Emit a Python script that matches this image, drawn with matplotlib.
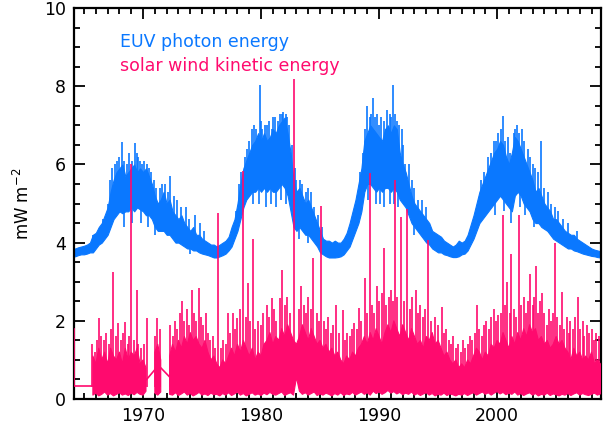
import numpy as np
import matplotlib
matplotlib.use("Agg")
import matplotlib.pyplot as plt
from matplotlib.ticker import MultipleLocator

# ---------------- data ----------------
euv_years = np.arange(1964.0, 2009.01, 0.25)
euv_lo = [3.65, 3.65, 3.68, 3.70, 3.70, 3.72, 3.75, 3.75, 3.85, 3.95, 4.00, 4.10,
          4.20, 4.40, 4.60, 4.70, 4.80, 4.75, 4.80, 4.80, 4.90, 4.80, 4.90, 4.85,
          4.80, 4.70, 4.70, 4.60, 4.40, 4.30, 4.30, 4.30, 4.20, 4.20, 4.10, 4.00,
          4.00, 3.95, 3.90, 3.85, 3.85, 3.80, 3.80, 3.75, 3.72, 3.70, 3.68, 3.65,
          3.62, 3.62, 3.65, 3.68, 3.72, 3.80, 3.90, 4.10, 4.30, 4.60, 4.90, 5.10,
          5.20, 5.30, 5.30, 5.40, 5.30, 5.40, 5.30, 5.40, 5.30, 5.30, 5.40, 5.50,
          5.40, 5.20, 4.80, 4.40, 4.30, 4.40, 4.30, 4.20, 4.20, 4.10, 4.00, 3.90,
          3.75, 3.70, 3.65, 3.62, 3.62, 3.62, 3.63, 3.65, 3.70, 3.80, 3.90, 4.10,
          4.30, 4.50, 4.80, 5.30, 5.50, 5.50, 5.40, 5.30, 5.40, 5.30, 5.40, 5.40,
          5.30, 5.40, 5.30, 5.10, 5.00, 4.90, 4.70, 4.50, 4.40, 4.30, 4.20, 4.10,
          4.00, 3.95, 3.85, 3.80, 3.75, 3.75, 3.70, 3.68, 3.65, 3.63, 3.63, 3.65,
          3.70, 3.72, 3.80, 3.95, 4.10, 4.30, 4.50, 4.60, 4.70, 4.80, 4.90, 5.00,
          5.10, 5.20, 5.10, 5.00, 4.90, 4.80, 5.20, 5.30, 5.20, 5.00, 4.90, 4.80,
          4.60, 4.50, 4.50, 4.40, 4.35, 4.30, 4.20, 4.10, 4.05, 4.00, 3.95, 3.90,
          3.85, 3.85, 3.80, 3.78, 3.75, 3.72, 3.70, 3.68, 3.66, 3.65, 3.63, 3.62,
          3.62]
euv_hi = [3.85, 3.85, 3.88, 3.90, 3.92, 3.95, 4.00, 4.20, 4.25, 4.40, 4.50, 4.70,
          4.90, 5.30, 5.60, 5.80, 5.90, 6.00, 5.70, 5.80, 5.90, 6.00, 5.80, 5.90,
          5.80, 5.90, 5.70, 5.50, 5.20, 5.00, 5.10, 5.30, 5.00, 5.10, 4.80, 4.70,
          4.60, 4.70, 4.50, 4.40, 4.30, 4.40, 4.20, 4.20, 4.10, 4.05, 4.00, 3.95,
          3.95, 3.90, 3.95, 4.00, 4.05, 4.15, 4.40, 4.60, 5.00, 5.50, 5.90, 6.10,
          6.30, 6.50, 6.60, 6.80, 6.60, 6.80, 6.60, 6.70, 6.90, 6.80, 7.00, 7.10,
          7.20, 6.80, 6.30, 5.60, 5.30, 5.40, 5.20, 5.00, 5.10, 4.90, 4.70, 4.50,
          4.30, 4.10, 4.05, 4.05, 4.00, 4.05, 4.00, 4.00, 4.10, 4.25, 4.50, 4.80,
          5.10, 5.50, 5.90, 6.60, 6.80, 7.00, 6.90, 6.80, 6.70, 6.60, 6.90, 7.00,
          6.80, 7.00, 6.90, 6.30, 6.00, 5.80, 5.50, 5.20, 5.00, 4.90, 4.80, 4.70,
          4.60, 4.50, 4.30, 4.25, 4.20, 4.15, 4.05, 4.00, 3.95, 3.90, 3.95, 4.05,
          4.00, 4.05, 4.20, 4.45, 4.70, 5.00, 5.30, 5.50, 5.70, 5.90, 6.10, 6.30,
          6.40, 6.60, 6.50, 6.20, 6.00, 6.30, 6.70, 6.60, 6.40, 6.20, 6.00, 5.80,
          5.60, 5.30, 5.40, 5.20, 5.00, 4.90, 4.80, 4.60, 4.60, 4.50, 4.40, 4.30,
          4.25, 4.20, 4.20, 4.10, 4.05, 4.00, 3.95, 3.90, 3.85, 3.82, 3.80, 3.78,
          3.78]
euv_spike_years = [1965.8, 1966.6, 1967.0, 1967.4, 1967.6, 1968.2, 1968.6, 1969.3, 1969.6,
                   1969.9, 1970.5, 1970.9, 1971.4, 1972.3, 1972.9, 1973.6, 1974.4, 1975.2,
                   1977.9, 1978.3, 1978.8, 1979.2, 1979.9, 1980.3, 1980.7, 1981.2, 1981.6,
                   1981.9, 1982.4, 1983.0, 1983.5, 1984.0, 1984.5, 1988.6, 1989.0, 1989.5,
                   1989.8, 1990.2, 1990.7, 1991.2, 1991.5, 1991.9, 1992.2, 1992.8, 1993.3,
                   1998.6, 1999.2, 1999.7, 2000.1, 2000.5, 2000.9, 2001.4, 2001.7, 2002.1,
                   2002.6, 2003.2, 2003.7, 2004.3, 2004.9, 2005.6,
                   1967.2, 1967.8, 1968.0, 1968.4, 1968.8, 1969.1, 1969.45, 1969.75, 1970.1,
                   1970.3, 1970.7, 1971.1, 1971.6, 1971.9, 1972.1, 1972.6, 1973.2, 1973.9,
                   1974.8, 1978.1, 1978.6, 1979.0, 1979.4, 1979.6, 1980.0, 1980.1, 1980.5,
                   1980.9, 1981.0, 1981.4, 1981.8, 1982.1, 1982.2, 1982.6, 1982.9, 1983.3,
                   1983.8, 1984.2, 1984.8, 1985.2, 1988.4, 1988.8, 1989.2, 1989.35, 1989.65,
                   1990.0, 1990.4, 1990.55, 1990.9, 1991.0, 1991.35, 1991.7, 1992.0, 1992.5,
                   1993.0, 1993.6, 1994.0, 1998.9, 1999.45, 1999.9, 2000.3, 2000.7, 2001.1,
                   2001.55, 2001.85, 2002.3, 2002.8, 2003.0, 2003.45, 2004.0, 2004.6, 2005.2,
                   2006.0, 2006.8]
euv_spike_vals = [4.2, 4.6, 5.0, 5.9, 6.0, 6.58, 6.0, 6.55, 6.2,
                  6.0, 5.9, 5.6, 5.4, 5.7, 5.1, 4.9, 4.7, 4.3,
                  4.8, 5.8, 6.4, 6.9, 8.03, 7.0, 7.1, 7.2, 7.3,
                  7.35, 7.0, 5.6, 5.5, 5.4, 4.9, 6.3, 7.5, 7.7,
                  7.3, 7.2, 7.4, 8.03, 7.1, 6.9, 6.0, 5.6, 5.1,
                  5.6, 6.2, 6.6, 6.8, 7.24, 6.7, 6.8, 7.0, 6.9,
                  6.4, 5.9, 6.6, 5.3, 4.9, 4.6,
                  5.6, 6.1, 6.2, 6.1, 6.3, 6.1, 6.3, 6.1, 6.1,
                  6.0, 5.8, 5.4, 5.5, 5.5, 5.3, 5.2, 4.9, 4.6,
                  4.5, 5.5, 6.2, 6.6, 7.0, 6.9, 7.1, 6.9, 7.0,
                  6.9, 7.2, 7.1, 7.3, 7.3, 7.2, 6.5, 5.9, 5.6,
                  5.3, 5.3, 4.7, 4.4, 5.8, 6.9, 7.2, 7.3, 7.2,
                  7.0, 7.1, 6.9, 7.3, 7.2, 7.3, 7.0, 6.5, 6.0,
                  5.4, 5.1, 4.9, 5.8, 6.3, 6.6, 6.9, 6.6, 6.3,
                  6.9, 6.8, 6.6, 6.2, 6.0, 5.8, 5.4, 5.0, 4.8,
                  4.5, 4.3]
euv_dip_years = [1968.4, 1969.1, 1969.8, 1970.4, 1971.0, 1974.0, 1979.3, 1979.8, 1980.4,
                 1980.8, 1981.3, 1981.7, 1982.1, 1983.2, 1984.0, 1989.1, 1989.7, 1990.1,
                 1990.45, 1990.9, 1991.3, 1991.6, 1993.0, 1999.8, 2000.6, 2001.2, 2001.9,
                 2002.4, 2003.1]
euv_dip_vals = [4.4, 4.5, 4.5, 4.4, 4.2, 3.7, 5.0, 5.0, 4.9,
                5.0, 4.9, 5.1, 5.0, 4.1, 4.0, 5.1, 5.0, 5.0,
                4.9, 5.0, 5.0, 4.9, 4.2, 4.7, 4.8, 4.5, 4.9,
                4.7, 4.4]

sw_hi = [1.1, 0.9, 1.3, 1.0, 1.2, 0.9, 1.3, 1.1, 1.0, 1.2, 0.9, 1.3, 1.0, 1.2, 1.1, 1.3,
         0.9, 1.0, 0.8, np.nan, np.nan, 1.2, 1.4, 1.0, np.nan, np.nan,
         1.1, 1.4, 1.2, 1.5, 1.3, 1.6, 1.4, 1.7, 1.5, 1.6, 1.4, 1.3, 1.5, 1.2, 1.0, 1.1,
         0.9, 0.8, 1.0, 0.9, 1.1, 1.3, 1.1, 1.4, 1.2, 1.5, 1.3, 1.1, 1.3, 1.0, 1.2, 1.1,
         1.4, 1.5, 1.7, 1.4, 1.6, 1.5, 1.8, 1.6, 1.9, 1.7, 1.5, 1.4, 1.6, 1.9, 1.7, 1.5,
         1.8, 1.6, 1.4, 1.5, 1.3, 1.4, 1.2, 1.3, 1.1, 1.2, 1.0, 0.9, 1.1, 1.0, 1.2, 1.1,
         1.3, 1.4, 1.6, 1.4, 1.7, 1.5, 1.8, 1.6, 1.4, 1.7, 1.9, 1.7, 2.0, 1.8, 1.6, 1.9,
         1.7, 1.5, 1.8, 1.6, 1.4, 1.5, 1.3, 1.6, 1.5, 1.7, 1.4, 1.5, 1.3, 1.1, 1.2, 1.0,
         0.9, 1.0, 0.8, 0.9, 0.8, 1.0, 0.9, 1.1, 1.3, 1.2, 1.0, 1.2, 1.1, 1.4, 1.3, 1.5,
         1.4, 1.7, 1.5, 1.3, 1.6, 1.4, 1.7, 1.5, 1.8, 1.6, 1.9, 1.7, 1.8, 1.5, 1.6, 1.4,
         1.5, 1.3, 1.4, 1.6, 1.4, 1.5, 1.3, 1.2, 1.0, 1.3, 1.1, 1.2, 1.0, 1.1, 1.0, 1.2,
         0.9, 1.0, 0.9]
sw_lo = [0.10, 0.15, 0.08, 0.12, 0.18, 0.10, 0.14, 0.08, 0.12, 0.16, 0.10, 0.13, 0.09, 0.15,
         0.11, 0.17, 0.12, 0.10, 0.20, 0.30, 0.30, 0.15, 0.10, 0.18, 0.30, 0.30,
         0.12, 0.10, 0.16, 0.09, 0.13, 0.18, 0.10, 0.14, 0.08, 0.12, 0.17, 0.10, 0.13, 0.09,
         0.15, 0.11, 0.12, 0.08, 0.14, 0.10, 0.16, 0.09, 0.13, 0.18, 0.10, 0.14, 0.08, 0.12,
         0.16, 0.10, 0.13, 0.09, 0.15, 0.11, 0.17, 0.12, 0.10, 0.14, 0.18, 0.09, 0.13, 0.16,
         0.10, 0.55, 0.20, 0.12, 0.16, 0.10, 0.14, 0.18, 0.09, 0.13, 0.10, 0.15, 0.12, 0.08,
         0.14, 0.10, 0.16, 0.09, 0.13, 0.11, 0.17, 0.10, 0.14, 0.18, 0.12, 0.16, 0.10, 0.20,
         0.14, 0.18, 0.12, 0.16, 0.22, 0.15, 0.19, 0.13, 0.17, 0.11, 0.15, 0.12, 0.18, 0.10,
         0.14, 0.09, 0.13, 0.16, 0.10, 0.14, 0.08, 0.12, 0.10, 0.15, 0.09, 0.13, 0.11, 0.08,
         0.12, 0.10, 0.14, 0.09, 0.13, 0.16, 0.10, 0.14, 0.18, 0.12, 0.16, 0.10, 0.15, 0.19,
         0.13, 0.17, 0.11, 0.15, 0.12, 0.18, 0.10, 0.14, 0.09, 0.13, 0.16, 0.10, 0.14, 0.08,
         0.12, 0.10, 0.15, 0.09, 0.13, 0.11, 0.08, 0.12, 0.10, 0.14, 0.09, 0.13, 0.16, 0.10,
         0.14, 0.11, 0.09, 0.12, 0.15, 0.10, 0.13]
sw_years = 1965.75 + 0.25 * np.arange(len(sw_hi))

sw_spike_years = [1965.7, 1965.9, 1966.1, 1966.3, 1966.45, 1966.7, 1966.9, 1967.1, 1967.3, 1967.45,
                  1967.7, 1967.9, 1968.1, 1968.3, 1968.5, 1968.7, 1968.85, 1969.0, 1969.2, 1969.45,
                  1969.6, 1969.8, 1970.1, 1970.3, 1971.05, 1971.2, 1971.4, 1972.3, 1972.5, 1972.7,
                  1972.9, 1973.1, 1973.3, 1973.5, 1973.7, 1973.9, 1974.15, 1974.35, 1974.5, 1974.7,
                  1974.9, 1975.1, 1975.3, 1975.5, 1975.7, 1975.9, 1976.1, 1976.35, 1976.6, 1976.8,
                  1977.0, 1977.2, 1977.4, 1977.6, 1977.8, 1977.95, 1978.2, 1978.45, 1978.7, 1978.9,
                  1979.1, 1979.3, 1979.5, 1979.7, 1980.0, 1980.2, 1980.5, 1980.7, 1980.9, 1981.1,
                  1981.3, 1981.6, 1981.8, 1982.0, 1982.2, 1982.45, 1982.75, 1983.2, 1983.4, 1983.6,
                  1983.8, 1984.0, 1984.2, 1984.4, 1984.7, 1984.9, 1985.1, 1985.3, 1985.5, 1985.7,
                  1985.9, 1986.1, 1986.35, 1986.6, 1986.9, 1987.1, 1987.3, 1987.5, 1987.7, 1987.9,
                  1988.1, 1988.3, 1988.5, 1988.8, 1989.0, 1989.2, 1989.4, 1989.6, 1989.8, 1990.0,
                  1990.25, 1990.4, 1990.6, 1990.8, 1991.0, 1991.2, 1991.35, 1991.55, 1991.85, 1992.1,
                  1992.35, 1992.6, 1992.8, 1993.1, 1993.3, 1993.5, 1993.7, 1993.9, 1994.15, 1994.4,
                  1994.75, 1995.0, 1995.3, 1995.5, 1995.7, 1995.9, 1996.1, 1996.3, 1996.5, 1996.7,
                  1996.9, 1997.1, 1997.3, 1997.5, 1997.7, 1997.9, 1998.1, 1998.3, 1998.5, 1998.7,
                  1998.9, 1999.1, 1999.3, 1999.5, 1999.7, 1999.9, 2000.1, 2000.3, 2000.5, 2000.65,
                  2000.85, 2001.05, 2001.2, 2001.4, 2001.6, 2001.85, 2002.05, 2002.25, 2002.45, 2002.6,
                  2002.8, 2003.0, 2003.15, 2003.3, 2003.5, 2003.65, 2003.8, 2004.0, 2004.2, 2004.4,
                  2004.6, 2004.75, 2004.9, 2005.1, 2005.3, 2005.5, 2005.7, 2005.9, 2006.05, 2006.2,
                  2006.4, 2006.6, 2006.85, 2007.05, 2007.25, 2007.4, 2007.6, 2007.8, 2008.0, 2008.2,
                  2008.4, 2008.6]
sw_spike_vals = [1.4, 1.2, 1.5, 2.07, 1.6, 1.5, 1.7, 1.4, 1.8, 3.25,
                 1.6, 1.94, 1.5, 1.7, 1.97, 1.4, 1.6, 6.0, 1.5, 2.8,
                 1.4, 1.3, 1.4, 2.07, 1.6, 2.07, 1.8, 1.9, 1.6, 2.0,
                 1.8, 2.2, 2.5, 2.0, 2.3, 1.9, 2.8, 2.2, 2.0, 2.83,
                 2.1, 1.9, 2.2, 1.7, 1.5, 1.6, 1.3, 4.76, 1.3, 1.5,
                 1.4, 2.2, 1.7, 2.2, 1.8, 2.07, 2.3, 5.83, 2.1, 2.97,
                 2.0, 4.1, 1.8, 2.0, 1.9, 2.2, 2.4, 2.1, 2.58, 2.3,
                 2.0, 2.58, 3.3, 2.4, 2.6, 2.2, 8.18, 2.3, 2.9, 2.4,
                 2.2, 2.6, 2.3, 3.6, 2.2, 2.0, 4.93, 2.0, 1.8, 2.1,
                 1.7, 1.9, 2.4, 1.7, 2.27, 1.5, 1.7, 1.6, 1.8, 1.94,
                 1.8, 2.33, 2.0, 3.1, 2.2, 5.78, 2.4, 2.2, 2.9, 2.5,
                 2.7, 3.86, 2.4, 2.6, 2.8, 2.5, 5.6, 2.6, 4.65, 2.5,
                 4.86, 2.3, 2.6, 2.8, 2.2, 2.4, 2.1, 2.3, 4.07, 2.0,
                 2.1, 1.9, 2.35, 1.7, 1.8, 1.5, 1.4, 1.6, 1.3, 1.4,
                 1.2, 1.5, 1.3, 1.4, 1.6, 1.5, 1.7, 2.4, 1.8, 1.6,
                 1.9, 2.0, 1.8, 2.1, 2.3, 2.0, 2.15, 2.2, 4.7, 2.4,
                 3.0, 2.2, 3.7, 2.3, 2.1, 4.7, 2.4, 2.6, 2.2, 2.5,
                 3.2, 2.4, 2.6, 3.4, 2.2, 2.5, 2.7, 2.2, 1.9, 2.3,
                 2.0, 2.2, 4.0, 2.1, 1.9, 2.75, 1.8, 2.1, 1.7, 2.0,
                 1.8, 2.1, 2.6, 1.8, 2.0, 1.6, 1.9, 1.7, 1.8, 1.5,
                 1.7, 1.6]
# interpolated segments across data gaps
sw_start_x = [1964.15, 1964.15, 1965.7]
sw_start_y = [1.8, 0.33, 0.33]
sw_gap1_x = [1970.3, 1971.0]
sw_gap1_y = [0.5, 0.75]
sw_gap2_x = [1971.5, 1972.3]
sw_gap2_y = [0.8, 0.55]

labels = ["EUV photon energy", "solar wind kinetic energy"]
ylabel = "mW m$^{-2}$"

BLUE = "#0a78ff"
PINK = "#ff0a6e"

# ---------------- plot ----------------
fig = plt.figure(figsize=(6.04, 4.30), dpi=100)
ax = fig.add_axes([0.1225, 0.072, 0.8725, 0.9094])

euv_lo_a = np.array(euv_lo)
euv_hi_a = np.array(euv_hi)
euv_mid = (euv_lo_a + euv_hi_a) / 2
ax.fill_between(euv_years, euv_lo_a, euv_hi_a, color=BLUE, lw=0.8, zorder=2)
base_up = np.interp(euv_spike_years, euv_years, euv_mid)
ax.vlines(euv_spike_years, base_up, euv_spike_vals, color=BLUE, lw=1.2, zorder=2)
base_dn = np.interp(euv_dip_years, euv_years, euv_mid)
ax.vlines(euv_dip_years, euv_dip_vals, base_dn, color=BLUE, lw=1.2, zorder=2)

sw_hi_a = np.array(sw_hi, dtype=float)
sw_lo_a = np.array(sw_lo, dtype=float)
ax.fill_between(sw_years, sw_lo_a, sw_hi_a, color=PINK, lw=0.8, zorder=3)
ax.vlines(sw_spike_years, 0.3, sw_spike_vals, color=PINK, lw=1.2, zorder=3)
ax.plot(sw_start_x, sw_start_y, color=PINK, lw=1.2, zorder=3)
ax.plot(sw_gap1_x, sw_gap1_y, color=PINK, lw=1.2, zorder=3)
ax.plot(sw_gap2_x, sw_gap2_y, color=PINK, lw=1.2, zorder=3)

ax.set_xlim(1964.15, 2008.8)
ax.set_ylim(0, 10)
ax.xaxis.set_major_locator(MultipleLocator(10))
ax.xaxis.set_minor_locator(MultipleLocator(1))
ax.yaxis.set_major_locator(MultipleLocator(2))
ax.yaxis.set_minor_locator(MultipleLocator(0.5))
ax.tick_params(which="both", direction="in", top=True, right=True, width=1.3,
               labelsize=12.5, colors="black")
ax.tick_params(which="major", length=8, pad=6)
ax.tick_params(which="minor", length=4.3)
for s in ax.spines.values():
    s.set_linewidth(1.6)
ax.set_ylabel(ylabel, fontsize=12, labelpad=8)

ax.text(0.088, 0.900, labels[0], transform=ax.transAxes, color=BLUE, fontsize=12.5)
ax.text(0.088, 0.838, labels[1], transform=ax.transAxes, color=PINK, fontsize=12.5)

fig.savefig("out.png", dpi=100)
